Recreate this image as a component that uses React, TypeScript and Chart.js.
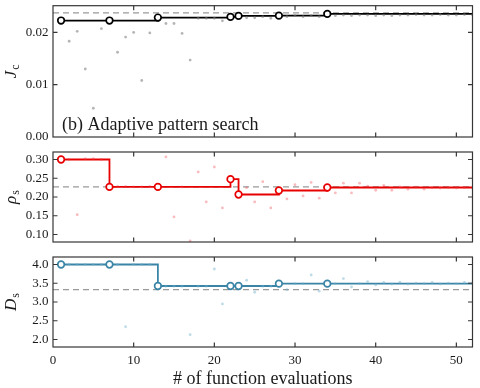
import React, { useEffect, useRef } from 'react';
import { Chart, registerables } from 'chart.js';

Chart.register(...registerables);

// ---------------- data ----------------
const xTicks = [0, 10, 20, 30, 40, 50];
const xMin = 0;
const xMax = 52;

// evaluations where the best value improved
const bestX = [1, 7, 13, 22, 23, 28, 34];

// panel (b) top: cost J_c
const bestJ = [0.02226, 0.02226, 0.02283, 0.02296, 0.02315, 0.0232, 0.02353];
const refJ = 0.02372;
const evalJ = [
  0.0222, 0.0183, 0.0202, 0.0130, 0.0055, 0.0207, 0.0222, 0.0162, 0.0191, 0.0200,
  0.0108, 0.0199, 0.0228, 0.0217, 0.0217, 0.0198, 0.0147, 0.0227, 0.0227, 0.0227,
  0.0222, 0.0230, 0.0231, 0.0228, 0.0228, 0.0230, 0.0227, 0.0232, 0.0230, 0.0232,
  0.0230, 0.0232, 0.0230, 0.0235, 0.0232, 0.0233, 0.0232, 0.0233, 0.0233, 0.0232,
  0.0233, 0.0232, 0.0233, 0.0233, 0.0234, 0.0233, 0.0233, 0.0234, 0.0233, 0.0233,
  0.0234, 0.0233,
];
const jTicks = [0.0, 0.01, 0.02];

// middle: rho_s
const bestRho = [0.3, 0.227, 0.227, 0.2475, 0.2067, 0.2173, 0.2253];
const refRho = 0.2272;
const evalRho = [
  0.300, 0.300, 0.153, 0.302, 0.302, 0.300, 0.227, 0.228, 0.228, 0.227,
  0.227, 0.228, 0.227, 0.307, 0.147, 0.227, 0.083, 0.267, 0.187, 0.280,
  0.171, 0.248, 0.207, 0.225, 0.187, 0.241, 0.171, 0.218, 0.195, 0.233,
  0.203, 0.239, 0.197, 0.2255, 0.211, 0.237, 0.211, 0.237, 0.229, 0.218,
  0.231, 0.218, 0.227, 0.221, 0.226, 0.221, 0.225, 0.224, 0.225, 0.224,
  0.225, 0.224,
];
const rhoTicks = [0.1, 0.15, 0.2, 0.25, 0.3];

// bottom: D_s
const bestD = [4.0, 4.0, 3.427, 3.427, 3.427, 3.49, 3.49];
const refD = 3.33;
const evalD = [
  4.0, 4.0, 4.0, 4.0, 4.0, 4.0, 4.0, 4.0, 2.34, 4.0,
  4.0, 4.0, 3.42, 3.42, 3.42, 3.42, 2.13, 3.42, 3.42, 3.88,
  2.95, 3.42, 3.42, 3.58, 3.26, 3.42, 3.42, 3.49, 3.33, 3.49,
  3.49, 3.72, 3.29, 3.49, 3.49, 3.625, 3.40, 3.49, 3.545, 3.455,
  3.52, 3.48, 3.53, 3.48, 3.50, 3.49, 3.52, 3.48, 3.50, 3.49,
  3.52, 3.50,
];
const dTicks = [2.0, 2.5, 3.0, 3.5, 4.0];

// ---------------- styling ----------------
const SERIF = '"Liberation Serif", "DejaVu Serif", serif';
const FRAME = '#363636';
const TEXT = '#1a1a1a';

type Panel = {
  best: number[];
  ref: number;
  evals: number[];
  yTicks: number[];
  yMin: number;
  yMax: number;
  dec: number;
  color: string;
  light: string;
  padTop: number;
  padBottom: number;
  showX: boolean;
  label: string;
  sub: string;
  annotation?: string;
  xTitle?: string;
};

const panels: Panel[] = [
  {
    best: bestJ, ref: refJ, evals: evalJ, yTicks: jTicks, yMin: 0, yMax: 0.0251, dec: 2,
    color: '#000000', light: 'rgba(120,120,120,0.55)', padTop: 4, padBottom: 251, showX: false,
    label: 'J', sub: 'c', annotation: '(b) Adaptive pattern search',
  },
  {
    best: bestRho, ref: refRho, evals: evalRho, yTicks: rhoTicks, yMin: 0.08, yMax: 0.32, dec: 2,
    color: 'rgb(232,0,0)', light: 'rgba(240,60,70,0.35)', padTop: 152, padBottom: 146, showX: false,
    label: 'ρ', sub: 's',
  },
  {
    best: bestD, ref: refD, evals: evalD, yTicks: dTicks, yMin: 1.8, yMax: 4.2, dec: 1,
    color: '#3a84a6', light: 'rgba(110,175,205,0.45)', padTop: 257, padBottom: 21, showX: true,
    label: 'D', sub: 's', xTitle: '# of function evaluations',
  },
];

const framePlugin = {
  id: 'frame',
  afterDraw(chart: any, _args: any, opts: any) {
    const { ctx, chartArea: a, scales } = chart;
    ctx.save();
    ctx.strokeStyle = FRAME;
    ctx.lineWidth = 1.2;
    ctx.strokeRect(a.left, a.top, a.right - a.left, a.bottom - a.top);
    const L = 4.5;
    ctx.beginPath();
    for (const v of xTicks) {
      const px = scales.x.getPixelForValue(v);
      if (px < a.left + 1 || px > a.right - 1) continue;
      ctx.moveTo(px, a.bottom);
      ctx.lineTo(px, a.bottom - L);
      ctx.moveTo(px, a.top);
      ctx.lineTo(px, a.top + L);
    }
    for (const v of opts.yTicks as number[]) {
      const py = scales.y.getPixelForValue(v);
      if (py < a.top + 1 || py > a.bottom - 1) continue;
      ctx.moveTo(a.left, py);
      ctx.lineTo(a.left + L, py);
      ctx.moveTo(a.right, py);
      ctx.lineTo(a.right - L, py);
    }
    ctx.stroke();

    // y-axis label (rotated)
    const cy = (a.top + a.bottom) / 2;
    ctx.fillStyle = TEXT;
    ctx.translate(16, cy);
    ctx.rotate(-Math.PI / 2);
    ctx.font = `italic 17px ${SERIF}`;
    const wMain = ctx.measureText(opts.label).width;
    ctx.font = `12px ${SERIF}`;
    const wSub = ctx.measureText(opts.sub).width;
    const total = wMain + wSub + 1;
    ctx.textBaseline = 'alphabetic';
    ctx.textAlign = 'left';
    ctx.font = `italic 17px ${SERIF}`;
    ctx.fillText(opts.label, -total / 2, 0);
    ctx.font = `12px ${SERIF}`;
    ctx.fillText(opts.sub, -total / 2 + wMain + 1, 3);
    ctx.setTransform(1, 0, 0, 1, 0, 0);

    if (opts.annotation) {
      ctx.font = `18px ${SERIF}`;
      ctx.textAlign = 'left';
      ctx.textBaseline = 'alphabetic';
      ctx.fillText(opts.annotation, a.left + 9, a.bottom - 7.5);
    }
    if (opts.xTitle) {
      ctx.font = `18px ${SERIF}`;
      ctx.textAlign = 'center';
      ctx.textBaseline = 'alphabetic';
      ctx.fillText(opts.xTitle, (a.left + a.right) / 2, 384);
    }
    ctx.restore();
  },
};

function makeConfig(p: Panel): any {
  const circles = bestX.map((x, i) => ({ x, y: p.best[i] }));
  const step = [...circles, { x: xMax, y: p.best[p.best.length - 1] }];
  const scatter = p.evals.map((y, i) => ({ x: i + 1, y }));
  const refLine = [{ x: xMin, y: p.ref }, { x: xMax, y: p.ref }];
  return {
    type: 'line',
    data: {
      datasets: [
        {
          data: circles, showLine: false, pointRadius: 3.3, pointBorderWidth: 1.7,
          pointBackgroundColor: '#ffffff', pointBorderColor: p.color, order: 0,
        },
        {
          data: scatter, showLine: false, pointRadius: 1.4, pointBorderWidth: 0,
          pointBackgroundColor: p.light, order: 1,
        },
        {
          data: step, stepped: 'before', borderColor: p.color, borderWidth: 1.8,
          pointRadius: 0, fill: false, order: 2,
        },
        {
          data: refLine, borderColor: '#9a9a9a', borderDash: [6, 4], borderWidth: 1.2,
          pointRadius: 0, fill: false, order: 3,
        },
      ],
    },
    options: {
      responsive: false,
      animation: false,
      devicePixelRatio: 1,
      events: [],
      layout: { padding: { left: 0, right: 7.5, top: p.padTop, bottom: p.padBottom } },
      plugins: {
        legend: { display: false },
        tooltip: { enabled: false },
        frame: {
          yTicks: p.yTicks, label: p.label, sub: p.sub,
          annotation: p.annotation, xTitle: p.xTitle,
        },
      },
      scales: {
        x: {
          type: 'linear', min: xMin, max: xMax, display: p.showX,
          grid: { display: false, drawTicks: false },
          border: { display: false },
          afterBuildTicks: (s: any) => { s.ticks = xTicks.map((v) => ({ value: v })); },
          afterFit: (s: any) => {
            s.height = p.showX ? 20 : 0;
            s.paddingLeft = 0;
            s.paddingRight = 0;
          },
          ticks: {
            autoSkip: false, maxRotation: 0, padding: 5.5, color: TEXT,
            font: { family: SERIF, size: 13 },
            callback: (v: any) => String(v),
          },
        },
        y: {
          type: 'linear', min: p.yMin, max: p.yMax,
          grid: { display: false, drawTicks: false },
          border: { display: false },
          afterBuildTicks: (s: any) => { s.ticks = p.yTicks.map((v) => ({ value: v })); },
          afterFit: (s: any) => {
            s.width = 53;
            s.paddingTop = 0;
            s.paddingBottom = 0;
          },
          ticks: {
            autoSkip: false, padding: 4.5, color: TEXT,
            font: { family: SERIF, size: 13 },
            callback: (v: any) => Number(v).toFixed(p.dec),
          },
        },
      },
    },
    plugins: [framePlugin],
  };
}

export default function App() {
  const r0 = useRef<HTMLCanvasElement>(null);
  const r1 = useRef<HTMLCanvasElement>(null);
  const r2 = useRef<HTMLCanvasElement>(null);

  useEffect(() => {
    const refs = [r0, r1, r2];
    const charts = panels.map((p, i) => new Chart(refs[i].current as HTMLCanvasElement, makeConfig(p)));
    return () => charts.forEach((c) => c.destroy());
  }, []);

  const cs: React.CSSProperties = { position: 'absolute', left: 0, top: 0, width: 480, height: 388, display: 'block' };
  return (
    <div style={{ position: 'fixed', left: 0, top: 0, width: 480, height: 388, background: '#ffffff', overflow: 'hidden' }}>
      <canvas ref={r0} width={480} height={388} style={cs} />
      <canvas ref={r1} width={480} height={388} style={cs} />
      <canvas ref={r2} width={480} height={388} style={cs} />
    </div>
  );
}
